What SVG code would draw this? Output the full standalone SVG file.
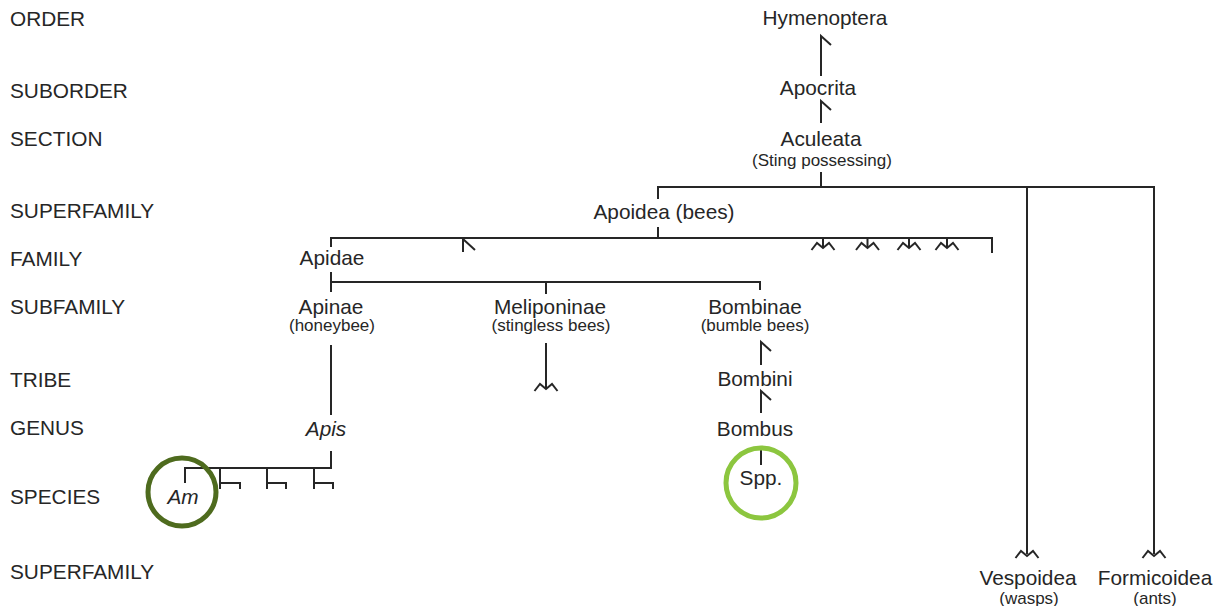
<svg xmlns="http://www.w3.org/2000/svg" width="1230" height="606" viewBox="0 0 1230 606">
  <style>
    text { font-family: "Liberation Sans", Arial, sans-serif; fill: #262626; }
    .rank { font-size: 20.8px; }
    .name { font-size: 20.8px; text-anchor: middle; }
    .note { font-size: 17px; text-anchor: middle; }
    .it { font-style: italic; }
    .ln { fill: none; stroke: #262626; stroke-width: 2; stroke-linejoin: miter; }
  </style>
  <defs>
    <!-- truncated-lineage mark, drawn under the end of a branch -->
    <path id="cut" d="M-11.5,7 L-6,0 L0,5 L6,0 L11.5,7" fill="none" stroke="#262626" stroke-width="2"/>
  </defs>
  <rect width="1230" height="606" fill="#ffffff"/>

  <!-- rank labels -->
  <g id="ranks">
    <text class="rank" x="10" y="26">ORDER</text>
    <text class="rank" x="10" y="98">SUBORDER</text>
    <text class="rank" x="10" y="146">SECTION</text>
    <text class="rank" x="10" y="218">SUPERFAMILY</text>
    <text class="rank" x="10" y="266">FAMILY</text>
    <text class="rank" x="10" y="314">SUBFAMILY</text>
    <text class="rank" x="10" y="387">TRIBE</text>
    <text class="rank" x="10" y="435">GENUS</text>
    <text class="rank" x="10" y="504">SPECIES</text>
    <text class="rank" x="10" y="579">SUPERFAMILY</text>
  </g>

  <!-- connectors -->
  <g id="connectors">
    <path class="ln" d="M821,76 V36 l10,9"/>
    <path class="ln" d="M821,123 V101 l10,9"/>
    <path class="ln" d="M821,172 V187"/>
    <path class="ln" d="M658,199 V187 H1154 V554"/>
    <path class="ln" d="M1027,187 V554"/>
    <use href="#cut" x="1027" y="551"/>
    <use href="#cut" x="1154" y="551"/>

    <path class="ln" d="M658,227 V238"/>
    <path class="ln" d="M331,247 V238 H992 V253"/>
    <path class="ln" d="M463,238 V252 M463,239 l12,11"/>
    <path class="ln" d="M823,238 V247 M867.5,238 V247 M909,238 V247 M947,238 V247"/>
    <use href="#cut" x="823" y="243"/>
    <use href="#cut" x="867.5" y="243"/>
    <use href="#cut" x="909" y="243"/>
    <use href="#cut" x="947" y="243"/>

    <path class="ln" d="M331,272 V292 M331,282 H760 V290 M546,282 V294"/>

    <path class="ln" d="M331,345 V415"/>
    <path class="ln" d="M331,451 V468 H185 V483"/>
    <path class="ln" d="M220,468 V489 M220,483 H240 V489"/>
    <path class="ln" d="M267,468 V489 M267,483 H286 V489"/>
    <path class="ln" d="M314,468 V489 M314,483 H333 V489"/>

    <path class="ln" d="M546,343 V389"/>
    <use href="#cut" x="546" y="384"/>

    <path class="ln" d="M761,365 V342 l10,9"/>
    <path class="ln" d="M761,413 V391 l10,9"/>
    <path class="ln" d="M761,447 V465"/>
  </g>

  <!-- nodes -->
  <g id="hymenoptera"><text class="name" x="825" y="25">Hymenoptera</text></g>
  <g id="apocrita"><text class="name" x="818" y="95">Apocrita</text></g>
  <g id="aculeata">
    <text class="name" x="821" y="146">Aculeata</text>
    <text class="note" x="822" y="166">(Sting possessing)</text>
  </g>
  <g id="apoidea"><text class="name" x="664" y="219">Apoidea (bees)</text></g>
  <g id="apidae"><text class="name" x="332" y="265">Apidae</text></g>
  <g id="apinae">
    <text class="name" x="331" y="314">Apinae</text>
    <text class="note" x="332" y="331">(honeybee)</text>
  </g>
  <g id="meliponinae">
    <text class="name" x="550" y="314">Meliponinae</text>
    <text class="note" x="551" y="331">(stingless bees)</text>
  </g>
  <g id="bombinae">
    <text class="name" x="755" y="314">Bombinae</text>
    <text class="note" x="755" y="331">(bumble bees)</text>
  </g>
  <g id="bombini"><text class="name" x="755" y="386">Bombini</text></g>
  <g id="apis"><text class="name it" x="326" y="436">Apis</text></g>
  <g id="bombus"><text class="name" x="755" y="436">Bombus</text></g>
  <g id="am">
    <circle cx="182" cy="492" r="34" fill="none" stroke="#4e6b1e" stroke-width="5"/>
    <text class="name it" x="183" y="504">Am</text>
  </g>
  <g id="spp">
    <circle cx="761" cy="483" r="35" fill="none" stroke="#8cc63f" stroke-width="5"/>
    <text class="name" x="761" y="485">Spp.</text>
  </g>
  <g id="vespoidea">
    <text class="name" x="1028" y="585">Vespoidea</text>
    <text class="note" x="1029" y="604">(wasps)</text>
  </g>
  <g id="formicoidea">
    <text class="name" x="1155" y="585">Formicoidea</text>
    <text class="note" x="1155" y="604">(ants)</text>
  </g>
</svg>
